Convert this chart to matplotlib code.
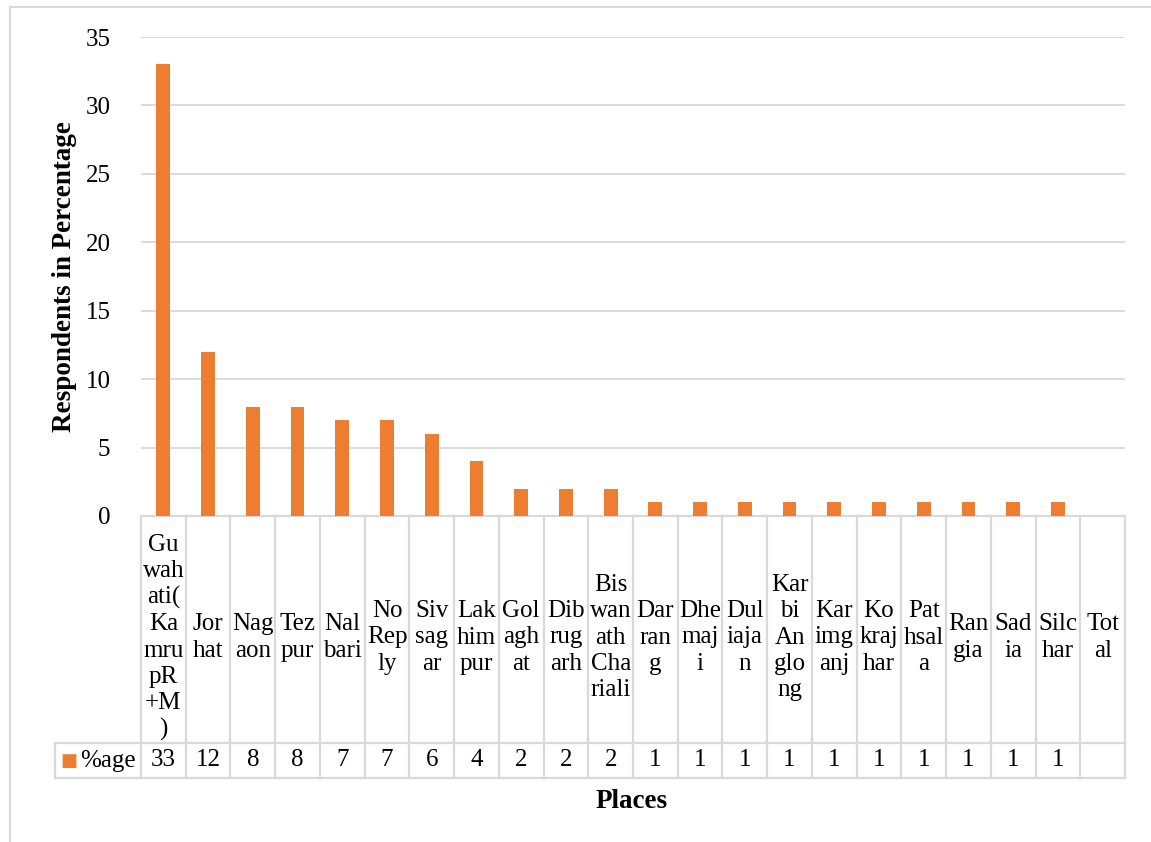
import numpy as np
import matplotlib.pyplot as plt
from matplotlib.lines import Line2D
import matplotlib.transforms as mtransforms

plt.rcParams['font.family'] = ['Liberation Serif', 'DejaVu Serif']

places = ['Gu\nwah\nati(\nKa\nmru\npR\n+M\n)', 'Jor\nhat', 'Nag\naon', 'Tez\npur', 'Nal\nbari',
          'No\nRep\nly', 'Siv\nsag\nar', 'Lak\nhim\npur', 'Gol\nagh\nat', 'Dib\nrug\narh',
          'Bis\nwan\nath\nCha\nriali', 'Dar\nran\ng', 'Dhe\nmaj\ni', 'Dul\niaja\nn',
          'Kar\nbi\nAn\nglo\nng', 'Kar\nimg\nanj', 'Ko\nkraj\nhar', 'Pat\nhsal\na',
          'Ran\ngia', 'Sad\nia', 'Silc\nhar', 'Tot\nal']
pct = [33, 12, 8, 8, 7, 7, 6, 4, 2, 2, 2, 1, 1, 1, 1, 1, 1, 1, 1, 1, 1, None]
series_name = '%age'
yticks = [0, 5, 10, 15, 20, 25, 30, 35]

W, H = 1151, 842
fig = plt.figure(figsize=(W / 100, H / 100), dpi=100)
ax = fig.add_axes([141 / W, (H - 516) / H, (1125 - 141) / W, (516 - 37) / H])

orange = '#ED7D31'
grid = '#d9d9d9'
fs = 18
n = len(places)
x = np.arange(n)
vals = [v if v is not None else 0 for v in pct]
ax.bar(x, vals, width=0.31, color=orange, zorder=3)

ax.set_xlim(-0.5, n - 0.5)
ax.set_ylim(0, 35)
ax.set_yticks(yticks)
ax.yaxis.grid(True, color=grid, lw=1.3)
ax.set_axisbelow(True)
ax.tick_params(axis='y', length=0, pad=22, labelsize=fs)
ax.set_xticks([])
for s in ax.spines.values():
    s.set_visible(False)
ax.set_ylabel('Respondents in Percentage', fontsize=19.5, fontweight='bold', labelpad=6)

# data table below the axes
trans = mtransforms.blended_transform_factory(ax.transData, ax.transAxes)
ah = 516 - 37
colw = (1125 - 141) / n
y_hdr = -(743 - 516) / ah
y_val = -(778 - 516) / ah
legx = -0.5 - 86 / colw
lkw = dict(transform=trans, color=grid, lw=1.6, clip_on=False)
ax.add_line(Line2D([-0.5, n - 0.5], [0, 0], **lkw))
ax.add_line(Line2D([legx, n - 0.5], [y_hdr, y_hdr], **lkw))
ax.add_line(Line2D([legx, n - 0.5], [y_val, y_val], **lkw))
ax.add_line(Line2D([legx, legx], [y_hdr, y_val], **lkw))
for b in np.arange(n + 1) - 0.5:
    ax.add_line(Line2D([b, b], [0, y_val], **lkw))

y_lab = y_hdr / 2 - 8 / ah
for i, (lab, v) in enumerate(zip(places, pct)):
    ax.text(i, y_lab, lab, transform=trans, ha='center', va='center',
            fontsize=fs, linespacing=1.24, clip_on=False)
    if v is not None:
        ax.text(i, (y_hdr + y_val) / 2, str(v), transform=trans, ha='center',
                va='center', fontsize=fs, clip_on=False)

ax.text(legx + 14 / colw, (y_hdr + y_val) / 2, '\u25A0', transform=trans, ha='center',
        va='center', fontsize=13, color=orange, family='DejaVu Sans')
ax.text(legx + 25 / colw, (y_hdr + y_val) / 2, series_name, transform=trans, ha='left',
        va='center', fontsize=fs)

fig.text(632 / W, 1 - 801 / H, 'Places', ha='center', va='center', fontsize=19.5,
         fontweight='bold')

# chart area border
fig.add_artist(Line2D([10 / W, 10 / W], [0, 1 - 7 / H], transform=fig.transFigure,
                      color=grid, lw=1.5))
fig.add_artist(Line2D([10 / W, 1], [1 - 7 / H, 1 - 7 / H], transform=fig.transFigure,
                      color=grid, lw=1.5))

fig.savefig('out.png', dpi=100)
